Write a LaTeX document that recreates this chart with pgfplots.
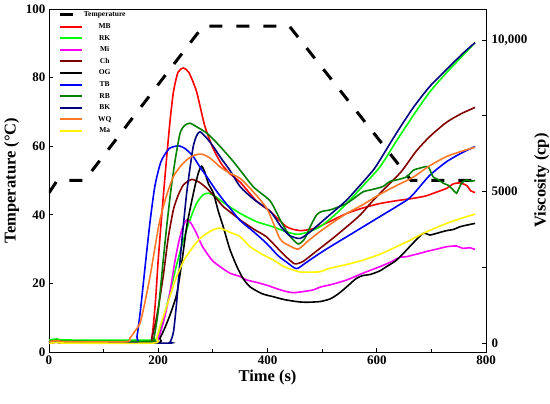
\documentclass[border=0pt]{standalone}
\usepackage{fontspec}
\setmainfont{Liberation Serif}
\usepackage{pgfplots}
\pgfplotsset{compat=1.18}
\definecolor{cMB}{RGB}{255,0,0}
\definecolor{cRK}{RGB}{0,255,0}
\definecolor{cMi}{RGB}{255,0,255}
\definecolor{cCh}{RGB}{128,0,0}
\definecolor{cOG}{RGB}{0,0,0}
\definecolor{cTB}{RGB}{0,0,255}
\definecolor{cRB}{RGB}{0,128,0}
\definecolor{cBK}{RGB}{0,0,128}
\definecolor{cWQ}{RGB}{255,120,40}
\definecolor{cMa}{RGB}{255,245,0}
\begin{document}
\begin{tikzpicture}[x=1pt,y=1pt]
\useasboundingbox (0,0) rectangle (550,404);
\begin{axis}[
  at={(49pt,52pt)}, anchor=south west, scale only axis,
  width=437pt, height=343pt,
  xmin=0, xmax=800, ymin=0, ymax=100,
  xtick={0,200,400,600,800}, minor xtick={100,300,500,700},
  ytick={0,20,40,60,80,100},
  xtick pos=bottom, ytick pos=left, tick align=inside,
  major tick length=4pt, minor tick length=3pt,
  axis line style={line width=0.9pt},
  every tick/.style={line width=0.9pt, black},
  /pgf/number format/assume math mode=true,
  ticklabel style={font=\bfseries\fontsize{13}{13}\selectfont},
  xlabel={Time (s)}, ylabel={Temperature (°C)},
  label style={font=\bfseries\fontsize{16.5}{16.5}\selectfont},
  xlabel style={yshift=1pt},
  ylabel style={yshift=0pt},
  legend cell align=center,
  legend style={at={(0.021,1)}, anchor=north west, draw=none, fill=none,
    inner sep=0pt, row sep=0pt,
    font=\bfseries\fontsize{7.5}{8}\selectfont,
    nodes={inner xsep=1pt, inner ysep=2.05pt, text height=5.7pt, text depth=1.8pt}},
  legend image code/.code={\draw[#1, line width=2pt] (0pt,0pt) -- (22pt,0pt);},
  every axis plot/.append style={line width=1.6pt, smooth, tension=0.4},
]
\addplot[black, line width=3pt, sharp plot, dash pattern=on 13pt off 14pt,
  legend image code/.code={\draw[black,line width=3pt] (0pt,0pt) -- (18pt,0pt);}]
  coordinates {(0,46.4)(15,50)(65,50)(282,95)(440,95)(663,50)(785,50)};
\addlegendentry{Temperature}
\addplot[cMB] coordinates {(0,3.0)(10,3.3)(20,3.0)(100,3.0)(182,3.0)(189,5)(195,15)(200,27)(208,43)(215,56)(222,68)(228,76)(236,81.5)(246,82.8)(256,81.5)(270,76)(285,66)(300,59.5)(315,55)(331,52)(350,49.5)(380,44)(405,41)(435,36.5)(459,35.4)(480,35.8)(496,36.7)(520,38.5)(545,40.4)(575,42)(606,43.3)(640,44.2)(667,44.8)(690,45.5)(704,46.3)(728,47.7)(740,49)(752,49.3)(765,48.5)(772,47)(780,46.5)};
\addlegendentry{MB}
\addplot[cRK] coordinates {(0,3.5)(15,3.8)(30,3.5)(188,3.5)(200,5)(210,10)(221,17)(233,25)(246,32.6)(258,38.5)(270,43.3)(282,45.8)(292,46.3)(305,45.3)(320,43.5)(350,40.4)(380,38)(410,36.5)(435,35)(455,34.3)(475,35)(496,36.5)(520,39.5)(545,43.3)(575,48.5)(606,54)(636,61.5)(667,69)(697,75.8)(728,81.5)(755,86)(780,90.2)};
\addlegendentry{RK}
\addplot[cMi] coordinates {(0,2.5)(15,3)(30,2.7)(188,2.7)(200,4)(210,9)(221,17)(230,26)(237,31.7)(244,36)(252,38.5)(260,37.5)(270,34.6)(280,31)(289,28.8)(300,26.5)(313,24.9)(331,23)(350,22)(362,21)(380,20.3)(398,19.5)(420,18.3)(435,17.6)(447,17.3)(460,17.5)(484,18.1)(496,18.9)(520,19.8)(545,21)(575,23)(606,24.9)(625,26.2)(642,27.6)(655,27.8)(667,28.3)(680,28.8)(691,29.3)(710,30)(728,30.7)(746,30.9)(758,30.2)(770,30.4)(780,29.9)};
\addlegendentry{Mi}
\addplot[cCh] coordinates {(0,2.8)(15,3.2)(30,3)(180,3)(188,4)(198,11)(209,22)(218,33)(227.6,41.4)(236,45.5)(246,48.7)(261,50.3)(275,49.5)(289,47.7)(305,45)(319,42.4)(335,40.4)(350,38.5)(375,35.8)(398,33.6)(420,30)(435,27.6)(450,25.7)(465,26.4)(480,28.2)(496,30.2)(520,33.2)(545,36.5)(570,40)(594,44.3)(620,48.5)(646,52.8)(672,58.5)(697,62.8)(728,67)(755,69.5)(780,71.3)};
\addlegendentry{Ch}
\addplot[cOG] coordinates {(0,2.6)(15,3)(30,2.7)(195,2.7)(203,4)(212,7)(222,11)(234,17)(243,26)(252,36.5)(260,43)(267,48.2)(274,52.5)(279.5,54.2)(285,52.5)(292,49)(301,46.3)(310,41)(319,36.5)(331,30)(344,24.9)(355,21.5)(368,19)(390,17)(411,16.1)(430,15.3)(453,14.7)(470,14.5)(496,14.7)(515,15.5)(530,17)(545,19)(563,21.5)(575,22.3)(588,22.6)(605,23.6)(618,24.9)(634,26.5)(649,28.8)(665,31.5)(685,34.6)(697,34.1)(712,34.7)(728,35.4)(740,35.7)(752,36.5)(765,37)(780,37.5)};
\addlegendentry{OG}
\addplot[cTB] coordinates {(0,2.8)(15,3.2)(30,2.9)(155,2.9)(161,4.5)(168,13)(176,25)(185,38)(194,48.5)(205,55.5)(220,59.3)(237,60.1)(250,59.2)(264,57)(276,54)(289,51.1)(304,47.5)(319,44.3)(335,41.2)(350,38.3)(375,35)(398,31.7)(420,28)(435,26.2)(453,24.3)(470,26)(496,28.8)(520,31.2)(545,33.6)(575,36.5)(606,39.5)(630,41.8)(655,44.3)(667,46)(697,51.5)(728,55.5)(755,58)(780,59.9)};
\addlegendentry{TB}
\addplot[cRB] coordinates {(0,3)(15,3.4)(30,3.1)(185,3.1)(192,4)(200,12)(208,25)(215.4,36.5)(223,47)(231,56)(240,63.8)(248,66)(258,66.7)(272,65.5)(289,63.8)(304,61.5)(319,58.9)(335,56)(350,53)(375,48)(405,44)(425,38)(440,34)(456,31.5)(468,33)(478,36.5)(490,40)(500,41)(514,41.4)(530,42.3)(545,43.3)(560,45)(575,46.7)(590,47.3)(600,47.7)(612,48.3)(624,49.7)(640,50.3)(655,51.1)(667,53)(679,53.6)(694,54)(703,51.1)(712,50.3)(722,49.2)(732,48.5)(740,47.2)(746,46.3)(750,47.5)(755,49.2)(764,50.2)(772,49.8)(780,50)};
\addlegendentry{RB}
\addplot[cBK] coordinates {(0,2.5)(15,2.9)(30,2.6)(215,2.6)(222,3)(228,6)(234,15)(240,26.8)(246,37)(252,46.3)(258,53.5)(264,59.9)(270,63)(276.4,64.2)(288,62.5)(300.8,59.9)(315,56.5)(331,53)(350,48.2)(375,44.5)(405,41)(425,36.5)(440,34)(459.5,33.1)(478,35)(496,37.5)(520,40.8)(545,44.3)(570,48.7)(594,53.1)(606,56)(636,63.8)(667,71.3)(697,77.4)(728,82.4)(758,87.1)(780,90.2)};
\addlegendentry{BK}
\addplot[cWQ] coordinates {(0,3)(15,3.3)(30,3.0)(140,3.0)(148,4)(157,6)(166.6,8.4)(175,14)(185,22)(194,30.5)(203,38.5)(215,45.5)(227.6,51.1)(240,54)(252,56)(265,57.3)(279.5,57.7)(295,56.5)(313,54)(330,52.2)(350,50.6)(375,46.5)(400,41.5)(422.9,33)(440,31)(456.5,30)(475,32.5)(496,35.1)(520,37.8)(545,40.4)(575,43)(606,46)(636,48.5)(667,51)(697,54.3)(728,57)(755,58.5)(780,59.7)};
\addlegendentry{WQ}
\addplot[cMa] coordinates {(0,2.5)(15,2.8)(30,2.6)(190,2.6)(197,4)(203,7.4)(215,13)(225,18)(233.7,22)(248,27)(264,30.7)(276,33)(289,34.6)(300,35.6)(313,36.1)(330,35)(350,33.6)(368,30.7)(390,28.5)(411,26.8)(430,24.9)(447,23.9)(460,23.3)(480,23.3)(496,23.4)(514,24.4)(545,25.5)(575,26.8)(606,28.5)(636,30.7)(660,32.5)(685,34.6)(705,36)(728,37.5)(755,39)(780,40.2)};
\addlegendentry{Ma}
\end{axis}
\begin{axis}[
  at={(49pt,52pt)}, anchor=south west, scale only axis,
  width=437pt, height=343pt,
  xmin=0, xmax=800, ymin=-297, ymax=11023,
  axis x line=none, axis y line*=right,
  scaled y ticks=false,
  ytick={0,2500,5000,7500,10000}, yticklabels={0,,5000,,{10,000}},
  tick align=inside, major tick length=4pt,
  axis line style={line width=0.9pt},
  every tick/.style={line width=0.9pt, black},
  /pgf/number format/assume math mode=true,
  ticklabel style={font=\bfseries\fontsize{13}{13}\selectfont},
  yticklabel style={xshift=2pt},
  ylabel={Viscosity (cp)},
  label style={font=\bfseries\fontsize{16.5}{16.5}\selectfont},
]
\end{axis}
\end{tikzpicture}
\end{document}
